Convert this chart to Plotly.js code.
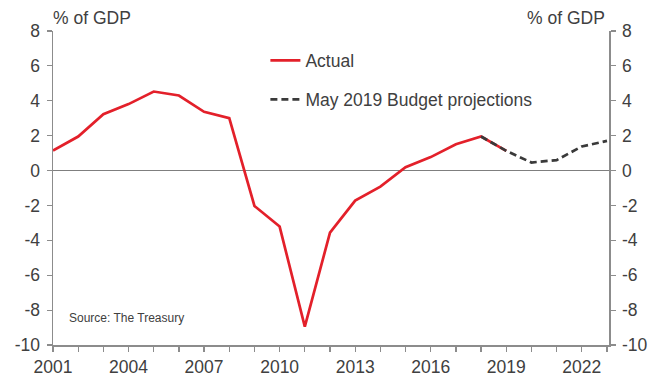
<!DOCTYPE html>
<html>
<head>
<meta charset="utf-8">
<script src="https://cdn.plot.ly/plotly-3.0.1.min.js"></script>
<style>html,body{margin:0;padding:0;background:#fff;}#chart{width:654px;height:381px;}</style>
</head>
<body>
<div id="chart"></div>
<script>
const actualYears = [2001,2002,2003,2004,2005,2006,2007,2008,2009,2010,2011,2012,2013,2014,2015,2016,2017,2018,2019];
const actualValues = [1.15,1.95,3.23,3.81,4.53,4.30,3.37,3.0,-2.03,-3.21,-8.95,-3.56,-1.72,-0.92,0.19,0.77,1.51,1.95,1.13];
const projYears = [2018,2019,2020,2021,2022,2023];
const projValues = [1.95,1.13,0.46,0.6,1.38,1.7];
const yTicks = [-10,-8,-6,-4,-2,0,2,4,6,8];
const yTickText = yTicks.map(v => String(v));

const txt = '#404040';
const axisCol = '#8c8c8c';
const fam = 'Liberation Sans, Arial, sans-serif';
const font = {family:fam, size:17.5, color:txt};

const traces = [
  {x:actualYears, y:actualValues, type:'scatter', mode:'lines', name:'Actual',
   line:{color:'#E3202A', width:2.7}, legend:'legend', yaxis:'y'},
  {x:projYears, y:projValues, type:'scatter', mode:'lines', name:'May 2019 Budget projections',
   line:{color:'#3a3a3a', width:2.7, dash:'7px,4px'}, legend:'legend2', yaxis:'y2'}
];

const layout = {
  width:654, height:381,
  margin:{l:53, r:45, t:31, b:36},
  paper_bgcolor:'#fff', plot_bgcolor:'#fff',
  font:font,
  showlegend:true,
  legend:{x:0.382, y:0.906, xanchor:'left', yanchor:'middle', bgcolor:'rgba(0,0,0,0)', font:font, borderwidth:0},
  legend2:{x:0.382, y:0.782, xanchor:'left', yanchor:'middle', bgcolor:'rgba(0,0,0,0)', font:font, borderwidth:0},
  xaxis:{range:[2001,2023.08], tick0:2001, dtick:3, showgrid:false, zeroline:false,
    showline:true, linecolor:axisCol, linewidth:1.5, ticks:'outside', ticklen:5, tickcolor:axisCol, tickwidth:1.2,
    minor:{dtick:1, tick0:2001, ticks:'outside', ticklen:5, tickcolor:axisCol, tickwidth:1.2, showgrid:false},
    tickfont:font},
  yaxis:{range:[-10,8], tickvals:yTicks, ticktext:yTickText, showgrid:false, zeroline:true, zerolinecolor:'#7f7f7f', zerolinewidth:1.2,
    showline:true, linecolor:axisCol, linewidth:1.5, ticks:'outside', ticklen:5, tickcolor:axisCol, tickwidth:1.2,
    tickfont:font, ticklabelstandoff:3},
  yaxis2:{range:[-10,8], tickvals:yTicks, ticktext:yTickText, overlaying:'y', side:'right', showgrid:false, zeroline:false,
    showline:true, linecolor:axisCol, linewidth:1.5, ticks:'outside', ticklen:5, tickcolor:axisCol, tickwidth:1.2,
    tickfont:font, ticklabelstandoff:3},
  annotations:[
    {text:'% of GDP', xref:'paper', yref:'paper', x:-0.003, y:1.0, xanchor:'left', yanchor:'bottom', yshift:1, showarrow:false, font:font},
    {text:'% of GDP', xref:'paper', yref:'paper', x:1.0, y:1.0, xanchor:'right', yanchor:'bottom', yshift:1, xshift:-2, showarrow:false, font:font},
    {text:'Source: The Treasury', xref:'paper', yref:'paper', x:0.026, y:0.085, xanchor:'left', yanchor:'middle', showarrow:false,
     font:{family:fam, size:12, color:txt}}
  ]
};

Plotly.newPlot('chart', traces, layout, {displayModeBar:false, staticPlot:true});
</script>
</body>
</html>
